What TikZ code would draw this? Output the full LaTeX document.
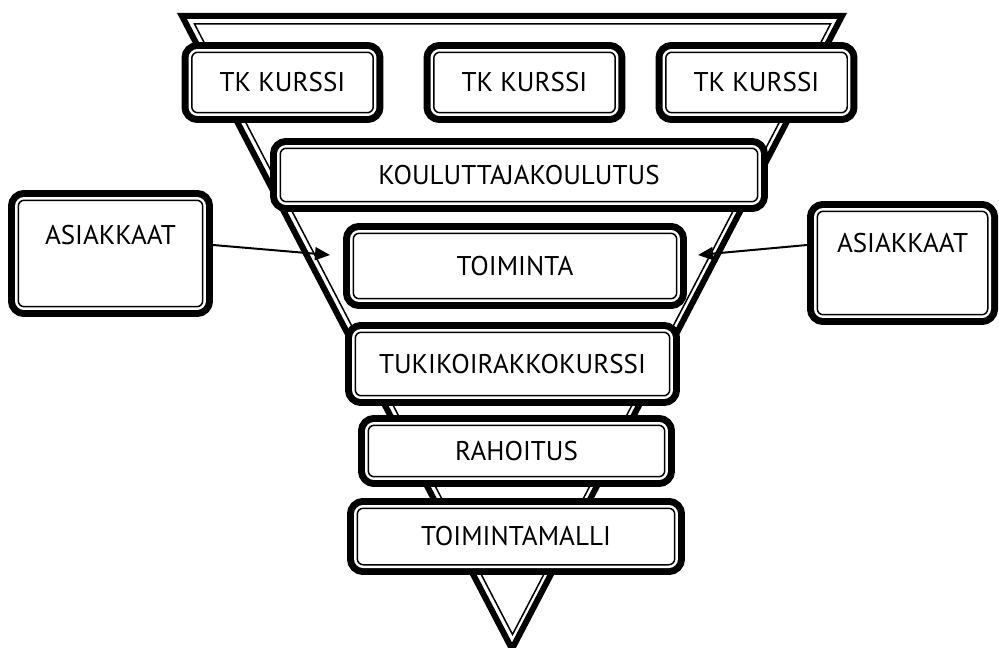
\documentclass[tikz,border=0pt]{standalone}
\usepackage{fontspec}
\setmainfont{PT Sans}
\usetikzlibrary{arrows.meta}
\begin{document}
\begin{tikzpicture}[x=0.02cm, y=-0.02cm,
  kbox/.style={draw, line width=0.03cm, rounded corners=0.12cm, fill=white,
    preaction={draw=black, line width=0.41cm},
    preaction={draw=white, line width=0.13cm},
    inner sep=0pt, outer sep=0.205cm, font=\fontsize{15.4}{18}\selectfont},
  arr/.style={-{Triangle[length=0.3cm, width=0.26cm]}, line width=0.04cm}
]
  \useasboundingbox (0,0) rectangle (999,648);

  % funnel
  \draw[line width=0.12cm, line join=miter] (182,16) -- (842,16) -- (512,649) -- cycle;
  \draw[line width=0.03cm] (194.5,24) -- (830.5,24) -- (512.5,634.5) -- cycle;

  \node[kbox, minimum width=3.63cm, minimum height=1.21cm] (tk1) at (282.5,82.5) {TK KURSSI};
  \node[kbox, minimum width=3.63cm, minimum height=1.21cm] (tk2) at (524.5,82.5) {TK KURSSI};
  \node[kbox, minimum width=3.63cm, minimum height=1.21cm] (tk3) at (756.5,82.5) {TK KURSSI};
  \node[kbox, minimum width=9.55cm, minimum height=1.07cm] (kou) at (519,175) {KOULUTTAJAKOULUTUS};
  \node[kbox, minimum width=6.47cm, minimum height=1.31cm] (toi) at (515,266) {TOIMINTA};
  \node[kbox, minimum width=6.29cm, minimum height=1.27cm] (tuk) at (512.5,364) {TUKIKOIRAKKOKURSSI};
  \node[kbox, minimum width=5.93cm, minimum height=1.03cm] (rah) at (516.5,451) {RAHOITUS};
  \node[kbox, minimum width=6.35cm, minimum height=1.13cm] (mal) at (516,536.5) {TOIMINTAMALLI};

  \node[kbox, minimum width=3.69cm, minimum height=2.13cm, text depth=0.74cm] (asL) at (110.5,253.5) {ASIAKKAAT};
  \node[kbox, minimum width=3.41cm, minimum height=2.07cm, text depth=0.8cm] (asR) at (902.5,263) {ASIAKKAAT};

  \coordinate (pL) at (330,255);
  \coordinate (pR) at (698,255);
  \draw[arr] ([yshift=0.17cm]asL.east) -- (pL);
  \draw[arr] ([yshift=0.36cm]asR.west) -- (pR);
\end{tikzpicture}
\end{document}
